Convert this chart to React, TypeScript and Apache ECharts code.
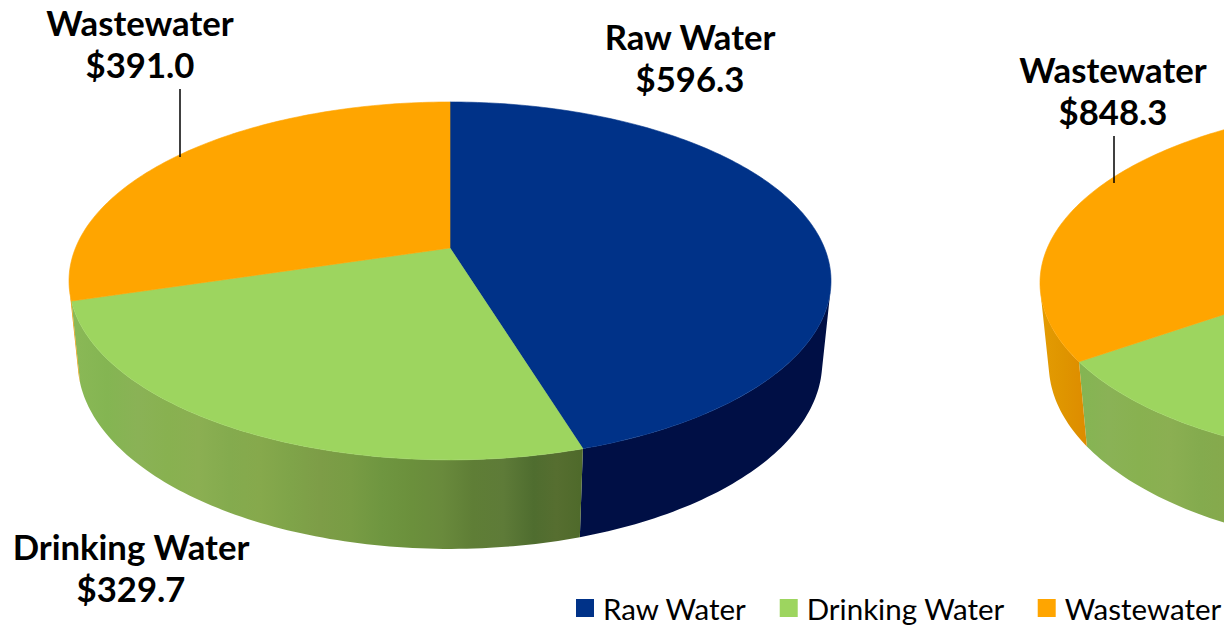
import React, { useEffect, useRef } from "react";
import * as echarts from "echarts";

// Dollar amounts per water sector, one entry per pie (left, right).
const categories = ["Raw Water", "Drinking Water", "Wastewater"];
const rawWater = [596.3, 939.0];
const drinkingWater = [329.7, 650.0];
const wastewater = [391.0, 848.3];
const seriesValues = [rawWater, drinkingWater, wastewater];

const topColors = ["#003288", "#9DD55F", "#FFA500"];

// Side-wall shading, as [fraction across the pie's width, colour].
const sideShades: [number, string][][] = [
  [[0, "#000F45"], [1, "#000F45"]],
  [
    [0, "#8BB957"], [0.05, "#84B552"], [0.09, "#8AB256"], [0.13, "#88B150"],
    [0.17, "#8BAF52"], [0.21, "#84AB4E"], [0.25, "#86A94C"], [0.29, "#7FA449"],
    [0.33, "#7D9D47"], [0.37, "#789C44"], [0.41, "#6F9640"], [0.45, "#6B903C"],
    [0.49, "#698A3C"], [0.53, "#5F7E36"], [0.57, "#5E7B38"], [0.61, "#4F6D2F"],
    [0.64, "#566E30"], [0.67, "#4F6A2B"], [1, "#4F6A2B"],
  ],
  [[0, "#E49C03"], [0.03, "#DF9500"], [0.05, "#DE8F00"], [0.06, "#DD8C00"], [1, "#DD8C00"]],
];

// Where each pie's hub sits, and the shared perspective of the disc.
const hubX = [450, 1421];
const hubY = [248, 250];
const discA = 374.5;
const discB = 172.9;
const tilt = 0.184;
const wallDrop = 79.7;
const floorScaleX = 0.977;
const floorScaleY = 1.044;
const halfWidth = 381;

// Callout placement for the slices that carry a label.
const callouts = [
  { pie: 0, cat: 2, x: 140, y: 43, leader: [180, 89, 180, 157] },
  { pie: 0, cat: 0, x: 690, y: 57 },
  { pie: 0, cat: 1, x: 131, y: 567 },
  { pie: 1, cat: 2, x: 1113, y: 90, leader: [1114, 136, 1114, 183] },
];

const LABEL_FONT = "Lato";

// Projects a rim angle (degrees clockwise from the far point) onto the top disc.
function rimTop(pie: number, deg: number): [number, number] {
  const t = (deg * Math.PI) / 180;
  const u = Math.sin(t);
  const v = -Math.cos(t);
  const d = 1 - tilt * v;
  return [hubX[pie] + (discA * u) / d, hubY[pie] + (discB * v) / d];
}

function rimBottom(pie: number, deg: number): [number, number] {
  const [x, y] = rimTop(pie, deg);
  return [
    hubX[pie] + floorScaleX * (x - hubX[pie]),
    hubY[pie] + wallDrop + floorScaleY * (y - hubY[pie]),
  ];
}

// The rim angle on the right where the wall line runs along the rim's tangent,
// which is where the side of the disc meets its visible outline.
function outlineAngle(): number {
  let best = 90;
  let bestCross = Infinity;
  for (let a = 60; a <= 130; a += 0.25) {
    const [x0, y0] = rimTop(0, a - 0.25);
    const [x1, y1] = rimTop(0, a + 0.25);
    const [tx, ty] = rimTop(0, a);
    const [bx, by] = rimBottom(0, a);
    const cross = Math.abs((x1 - x0) * (by - ty) - (y1 - y0) * (bx - tx));
    if (cross < bestCross) {
      bestCross = cross;
      best = a;
    }
  }
  return best;
}

function arcPoints(fn: (p: number, d: number) => [number, number], pie: number, a: number, b: number) {
  const pts: [number, number][] = [];
  const n = Math.max(1, Math.ceil(Math.abs(b - a)));
  for (let i = 0; i <= n; i++) pts.push(fn(pie, a + ((b - a) * i) / n));
  return pts;
}

const edgeAngle = outlineAngle();

function buildSeries(cat: number) {
  const data = seriesValues[cat].map((value, pie) => {
    const total = seriesValues.reduce((s, list) => s + list[pie], 0);
    const before = seriesValues.slice(0, cat).reduce((s, list) => s + list[pie], 0);
    return [pie, (before / total) * 360, ((before + value) / total) * 360, value];
  });

  return {
    type: "custom",
    name: categories[cat],
    coordinateSystem: "none",
    silent: true,
    itemStyle: { color: topColors[cat] },
    data,
    renderItem: (_params: any, api: any) => {
      const pie = api.value(0);
      const start = api.value(1);
      const end = api.value(2);
      const value = api.value(3);
      const children: any[] = [];

      // Visible part of the outer wall.
      const wallStart = Math.max(start, edgeAngle);
      const wallEnd = Math.min(end, 360 - edgeAngle);
      if (wallEnd > wallStart) {
        const left = hubX[pie] - halfWidth;
        const right = hubX[pie] + halfWidth;
        const fill = new echarts.graphic.LinearGradient(
          left, 0, right, 0,
          sideShades[cat].map(([offset, color]) => ({ offset, color })),
          true,
        );
        children.push({
          type: "polygon",
          shape: {
            points: [
              ...arcPoints(rimTop, pie, wallStart, wallEnd),
              ...arcPoints(rimBottom, pie, wallEnd, wallStart),
            ],
          },
          style: { fill },
        });
      }

      // Top face of the slice.
      children.push({
        type: "polygon",
        shape: { points: [[hubX[pie], hubY[pie]], ...arcPoints(rimTop, pie, start, end)] },
        style: { fill: topColors[cat], stroke: topColors[cat], lineWidth: 0.6 },
      });

      for (const c of callouts) {
        if (c.pie !== pie || c.cat !== cat) continue;
        if (c.leader) {
          children.push({
            type: "line",
            shape: { x1: c.leader[0], y1: c.leader[1], x2: c.leader[2], y2: c.leader[3] },
            style: { stroke: "#000000", lineWidth: 1.5 },
          });
        }
        children.push({
          type: "text",
          style: {
            text: `${categories[cat]}\n$${value.toFixed(1)}`,
            x: c.x,
            y: c.y,
            align: "center",
            verticalAlign: "middle",
            fontFamily: LABEL_FONT,
            fontWeight: "bold",
            fontSize: 34.7,
            lineHeight: 42,
            fill: "#000000",
          },
        });
      }
      return { type: "group", children };
    },
  };
}

export default function App() {
  const ref = useRef<HTMLDivElement>(null);

  useEffect(() => {
    const chart = echarts.init(ref.current!, undefined, { renderer: "svg" });
    chart.setOption({
      animation: false,
      backgroundColor: "#FFFFFF",
      legend: {
        left: 576,
        top: 593,
        padding: 0,
        orient: "horizontal",
        data: categories,
        icon: "rect",
        itemWidth: 18,
        itemHeight: 18,
        itemGap: 33,
        selectedMode: false,
        textStyle: {
          fontFamily: LABEL_FONT,
          fontSize: 29.5,
          color: "#000000",
          padding: [7, 0, 0, 4],
        },
      },
      series: categories.map((_, cat) => buildSeries(cat)),
    });
    return () => chart.dispose();
  }, []);

  return (
    <div
      ref={ref}
      style={{ position: "fixed", left: 0, top: 0, width: 1224, height: 626 }}
    />
  );
}
